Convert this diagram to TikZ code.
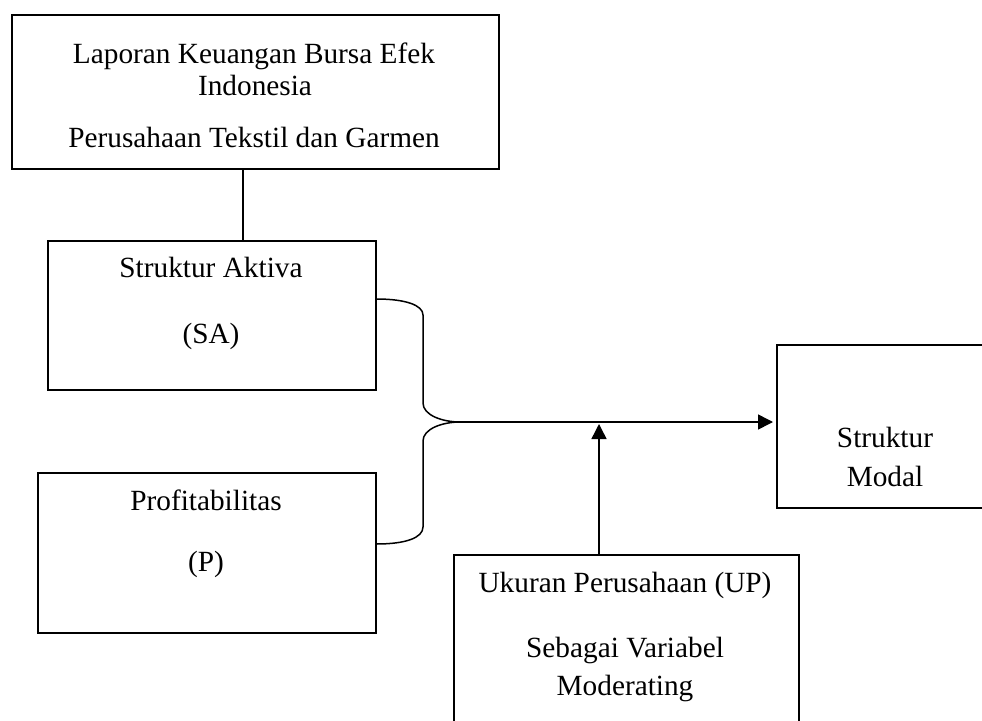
\documentclass[tikz,border=0pt]{standalone}
\usepackage{fontspec}
\setmainfont{Liberation Serif}
\usetikzlibrary{arrows.meta,calc}
\begin{document}
\begin{tikzpicture}[x=1pt,y=-1pt,
  box/.style={draw,line width=1.5pt,inner sep=0pt,anchor=north west},
  lbl/.style={anchor=base,inner sep=0pt,font=\fontsize{29.3}{33}\selectfont},
  conn/.style={line width=1.5pt},
  tip/.style={-{Triangle[length=15pt,width=15pt]}}]
\useasboundingbox (0,0) rectangle (982,720);
\clip (0,0) rectangle (982,720);
% boxes
\node[box,minimum width=487pt,minimum height=154pt] (top) at (11,14) {};
\node[box,minimum width=328pt,minimum height=149pt] (sa) at (47,240) {};
\node[box,minimum width=338pt,minimum height=160pt] (p) at (37,472) {};
\node[box,minimum width=224pt,minimum height=163pt] (sm) at (776,344) {};
\node[box,minimum width=345pt,minimum height=190pt] (up) at (453,554) {};
% texts
\node[lbl] (t1) at (254,63) {Laporan Keuangan Bursa Efek};
\node[lbl] (t2) at (255,95) {Indonesia};
\node[lbl] (t3) at (254,147) {Perusahaan Tekstil dan Garmen};
\node[lbl] (t4) at (211,277) {Struktur Aktiva};
\node[lbl] (t5) at (211,343) {(SA)};
\node[lbl] (t6) at (206,510) {Profitabilitas};
\node[lbl] (t7) at (206,571) {(P)};
\node[lbl] (t8) at (885,447) {Struktur};
\node[lbl] (t9) at (885,486) {Modal};
\node[lbl] (t10) at (625,592) {Ukuran Perusahaan (UP)};
\node[lbl] (t11) at (625,657) {Sebagai Variabel};
\node[lbl] (t12) at (625,695) {Moderating};
% connectors
\coordinate (c1) at (243,0);
\draw[conn] (top.south -| c1) -- (sa.north -| c1);
\coordinate (joint) at (460,422);
\coordinate (bx) at (423,0);
\draw[conn] (sa.east |- 0,299) .. controls (405,299) and (423,305) .. (423,315)
  -- (423,403) .. controls (423,415) and (442,422) .. (joint);
\draw[conn] (joint) .. controls (442,422) and (423,429) .. (423,441)
  -- (423,527) .. controls (423,538) and (405,544) .. (p.east |- 0,544);
\draw[conn,tip,shorten >=3pt] (joint) -- (sm.west |- joint);
\coordinate (c2) at (599,0);
\draw[conn,tip,shorten >=2pt] (up.north -| c2) -- (joint -| c2);
\end{tikzpicture}
\end{document}
